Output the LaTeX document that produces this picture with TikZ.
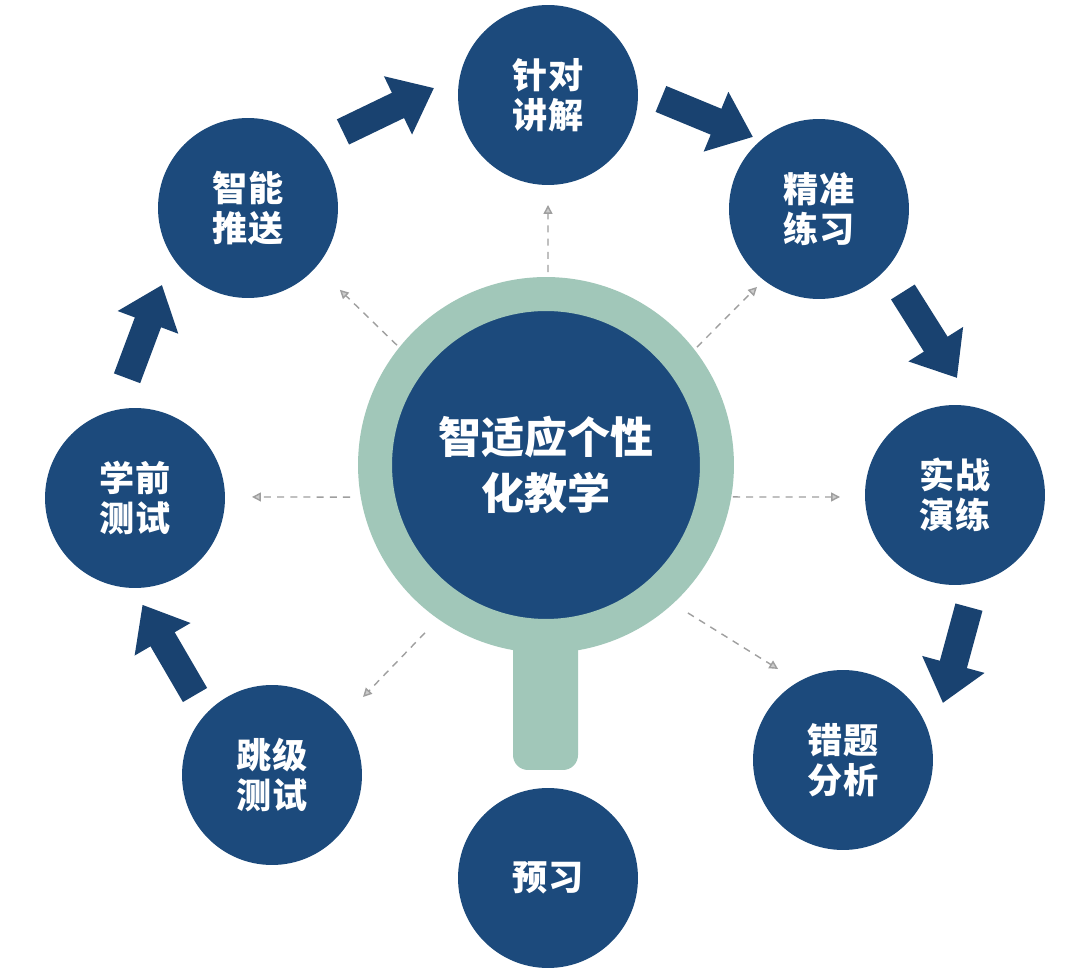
\documentclass[tikz,border=0pt]{standalone}
\usepackage{fontspec}
\newfontfamily\cjk{Noto Sans CJK SC}
\usetikzlibrary{arrows.meta, calc}
\definecolor{navy}{RGB}{28,74,124}
\definecolor{arrownavy}{RGB}{25,66,112}
\definecolor{sage}{RGB}{161,199,185}
\tikzset{
stage/.style={circle, fill=navy, minimum size=3.6cm, inner sep=0pt, text=white, align=center,
  font=\cjk\bfseries\fontsize{20}{23}\selectfont}, % the eight outer circles
core/.style={circle, fill=navy, draw=sage, line width=0.68cm, minimum size=6.84cm, inner sep=0pt,
  text=white, align=center, font=\cjk\bfseries\fontsize{24.5}{32}\selectfont}, % lens of the magnifier
flow/.style={arrownavy, line width=0.56cm, -{Triangle[length=0.8cm, width=1.24cm]}}, % fat arrows
ray/.style={gray!75, line width=0.8pt, dash pattern=on 4pt off 3.5pt,
  -{Triangle[length=5pt, width=5pt, fill=gray!40]}}, % dashed arrows from the centre
}
\begin{document}
\begin{tikzpicture}[x=0.02cm, y=0.02cm]
        \fill[white] (0,0) rectangle (1080,971);
        \useasboundingbox (0,0) rectangle (1080,971);

        % handle first, the ring covers its top
        \fill[sage, rounded corners=0.3cm] (513,201) rectangle (578,420);
        \node[core] (core) at (546,506) {智适应个性\\化教学};

        \node[stage] (jiangjie) at (548,876) {针对\\讲解};
        \node[stage] (lianxi) at (819,762) {精准\\练习};
        \node[stage] (yanlian) at (955,476) {实战\\演练};
        \node[stage] (fenxi) at (843,211) {错题\\分析};
        \node[stage] (yuxi) at (548,93) {预习};
        \node[stage] (tiaoji) at (272,196) {跳级\\测试};
        \node[stage] (xueqian) at (135,473) {学前\\测试};
        \node[stage] (tuisong) at (248,763) {智能\\推送};

        \draw[flow] ($(tiaoji)+(133.9:111)$) -- ($(xueqian)+(-86:107)$);
        \draw[flow] ($(xueqian)+(93.8:120)$) -- ($(tuisong)+(-138.2:115.4)$);
        \draw[flow] ($(tuisong)+(38.7:121.7)$) -- ($(jiangjie)+(176.5:114.2)$);
        \draw[flow] ($(jiangjie)+(-2:113)$) -- ($(lianxi)+(132.5:97.7)$);
        \draw[flow] ($(lianxi)+(-44.7:118)$) -- ($(yanlian)+(89:117)$);
        \draw[flow] ($(yanlian)+(-82.9:113)$) -- ($(fenxi)+(29.7:115)$);

        \draw[ray] ($(core)+(89.4:193)$) -- ($(jiangjie)+(-90:110)$);
        \draw[ray] ($(core)+(141.2:191.3)$) -- ($(tuisong)+(-41.7:123)$);
        \draw[ray] ($(core)+(38:191.6)$) -- ($(lianxi)+(-128.5:99.6)$);
        \draw[ray] ($(core)+(189.3:198.6)$) -- ($(xueqian)+(0.5:117)$);
        \draw[ray] ($(core)+(-9.7:189.7)$) -- ($(yanlian)+(181:115)$);
        \draw[ray] ($(core)+(234.2:207)$) -- ($(tiaoji)+(40.6:119.9)$);
        \draw[ray] ($(core)+(-46.2:205)$) -- ($(fenxi)+(125.5:111.8)$);
    \end{tikzpicture}
\end{document}
